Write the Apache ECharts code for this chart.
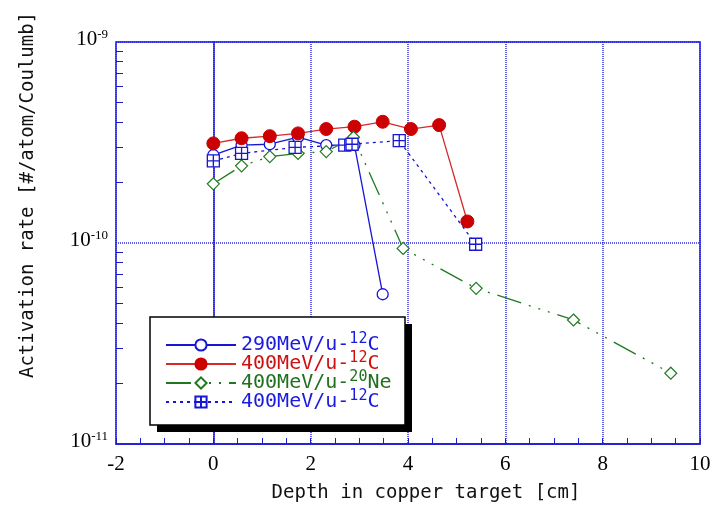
<!DOCTYPE html>
<html>
<head>
<meta charset="utf-8">
<script src="https://cdn.jsdelivr.net/npm/echarts@6/dist/echarts.min.js"></script>
<style>
html, body { margin: 0; padding: 0; background: #fff; }
#chart { width: 714px; height: 512px; }
</style>
</head>
<body>
<div id="chart"></div>
<script>
// depth [cm] / activation rate [#/atom/Coulumb]
const depth290C = [0, 0.58, 1.16, 1.74, 2.32, 2.9, 3.48];
const rate290C = [2.74e-10, 3.07e-10, 3.10e-10, 3.36e-10, 3.07e-10, 3.07e-10, 5.56e-11];

const depth400C = [0, 0.58, 1.16, 1.74, 2.32, 2.9, 3.48, 4.06, 4.64, 5.22];
const rate400C = [3.13e-10, 3.32e-10, 3.40e-10, 3.51e-10, 3.69e-10, 3.79e-10, 4.01e-10, 3.69e-10, 3.86e-10, 1.28e-10];

const depth400Ne = [0, 0.58, 1.16, 1.74, 2.32, 2.88, 3.9, 5.4, 7.4, 9.4];
const rate400Ne = [1.97e-10, 2.42e-10, 2.69e-10, 2.79e-10, 2.85e-10, 3.36e-10, 9.4e-11, 5.95e-11, 4.14e-11, 2.25e-11];

const depth400C2 = [0, 0.58, 1.68, 2.7, 2.85, 3.82, 5.39];
const rate400C2 = [2.56e-10, 2.79e-10, 2.99e-10, 3.07e-10, 3.10e-10, 3.23e-10, 9.86e-11];

// legend: [text, superscript, element]
const seriesNames = ["290C", "400C", "400Ne", "400C2"];
const legendParts = {
	"290C": ["290MeV/u-", "12", "C"],
	"400C": ["400MeV/u-", "12", "C"],
	"400Ne": ["400MeV/u-", "20", "Ne"],
	"400C2": ["400MeV/u-", "12", "C"],
};
const legendKey = { "290C": "b", "400C": "r", "400Ne": "g", "400C2": "b" };

const xMin = -2, xMax = 10, xStep = 2;
const yDecades = [1e-11, 1e-10, 1e-9];

const BLUE = "#1616d4";
const RED = "#cc0000";
const GREEN = "#1f7a1f";
const AXIS = "#1c1cc8";
const GRIDLINE = "#2a2ae0";
const MONO = "DejaVu Sans Mono";
const SERIF = "Liberation Serif";

// legend frame (box + hard shadow)
const LEG_X = 150, LEG_Y = 317, LEG_W = 255, LEG_H = 108, LEG_SHADOW = 7;

function pairs(xs, ys) {
	return xs.map((x, i) => [x, ys[i]]);
}

// minor ticks 2..9 inside each decade
let yMinor = [];
for (let i = 0; i < yDecades.length - 1; i++) {
	for (let k = 2; k <= 9; k++) yMinor.push(k * yDecades[i]);
}

function textRich(color) {
	return {
		t: { color: color, fontFamily: MONO, fontSize: 20, lineHeight: 26 },
		s: { color: color, fontFamily: MONO, fontSize: 15, lineHeight: 2, verticalAlign: "top" },
	};
}
const richB = textRich("#1a1ae0");
const richR = textRich("#d01010");
const richG = textRich("#207020");
const legendRich = {
	bt: richB.t, bs: richB.s,
	rt: richR.t, rs: richR.s,
	gt: richG.t, gs: richG.s,
};

let chart = echarts.init(document.getElementById("chart"));

let option = {
	animation: false,
	backgroundColor: "#fff",
	grid: {
		left: 116,
		right: 14,
		top: 42,
		bottom: 68,
		show: true,
		borderColor: AXIS,
		borderWidth: 1.5,
	},
	graphic: [
		{
			type: "rect",
			z: 3,
			shape: { x: LEG_X + LEG_SHADOW, y: LEG_Y + LEG_SHADOW, width: LEG_W, height: LEG_H },
			style: { fill: "#000" },
		},
		{
			type: "rect",
			z: 3,
			shape: { x: LEG_X, y: LEG_Y, width: LEG_W, height: LEG_H },
			style: { fill: "#fff", stroke: "#000", lineWidth: 1.5 },
		},
	],
	xAxis: {
		type: "value",
		min: xMin,
		max: xMax,
		interval: xStep,
		name: "Depth in copper target [cm]",
		nameLocation: "middle",
		nameGap: 40,
		nameTextStyle: { fontFamily: MONO, fontSize: 19, color: "#111", padding: [0, 0, 0, 36] },
		axisLine: { show: true, lineStyle: { color: AXIS, width: 1.5 } },
		axisTick: { show: true, inside: true, length: 6, lineStyle: { color: AXIS } },
		minorTick: { show: true, splitNumber: 4, length: 6, lineStyle: { color: AXIS } },
		axisLabel: { fontFamily: SERIF, fontSize: 21, color: "#000", margin: 10 },
		splitLine: { show: true, lineStyle: { color: GRIDLINE, type: [1, 1], width: 1.5 } },
	},
	yAxis: [
		{
			type: "log",
			logBase: 10,
			min: yDecades[0],
			max: yDecades[yDecades.length - 1],
			name: "Activation rate [#/atom/Coulumb]",
			nameLocation: "middle",
			nameRotate: 90,
			nameGap: 78,
			nameTextStyle: { fontFamily: MONO, fontSize: 19, color: "#111", padding: [0, 0, 0, 96] },
			axisLine: { show: true, lineStyle: { color: AXIS, width: 1.5 } },
			axisTick: { show: false },
			axisLabel: {
				margin: 8,
				formatter: (v) => "{b|10}{s|" + Math.round(Math.log10(v)) + "}",
				rich: {
					b: { fontFamily: SERIF, fontSize: 21, color: "#000", lineHeight: 22 },
					s: { fontFamily: SERIF, fontSize: 13, color: "#000", lineHeight: 12, verticalAlign: "top" },
				},
				padding: [0, 0, 6, 0],
			},
			splitLine: { show: true, lineStyle: { color: GRIDLINE, type: [1, 1], width: 1.5 } },
		},
		{
			type: "log",
			logBase: 10,
			min: yDecades[0],
			max: yDecades[yDecades.length - 1],
			position: "left",
			axisLine: { show: false },
			axisTick: { show: true, inside: true, length: 7, customValues: yMinor, lineStyle: { color: AXIS } },
			axisLabel: { show: false },
			splitLine: { show: false },
		},
	],
	legend: {
		orient: "vertical",
		left: LEG_X,
		top: LEG_Y,
		z: 4,
		padding: [15, 14, 9, 15],
		itemGap: -4,
		itemWidth: 70,
		itemHeight: 14,
		backgroundColor: "transparent",
		borderWidth: 0,
		data: seriesNames,
		formatter: (name) => {
			let p = legendParts[name];
			let k = legendKey[name];
			return "{" + k + "t|" + p[0] + "}{" + k + "s|" + p[1] + "}{" + k + "t|" + p[2] + "}";
		},
		textStyle: { rich: legendRich },
	},
	series: [
		{
			name: seriesNames[0],
			type: "line",
			data: pairs(depth290C, rate290C),
			symbol: "circle",
			symbolSize: 11,
			itemStyle: { color: "#fff", borderColor: BLUE, borderWidth: 1.3 },
			lineStyle: { color: BLUE, width: 1.3 },
		},
		{
			name: seriesNames[1],
			type: "line",
			data: pairs(depth400C, rate400C),
			symbol: "circle",
			symbolSize: 13,
			itemStyle: { color: RED, borderColor: RED, borderWidth: 1 },
			lineStyle: { color: "#d42a2a", width: 1.3 },
		},
		{
			name: seriesNames[2],
			type: "line",
			data: pairs(depth400Ne, rate400Ne),
			symbol: "diamond",
			symbolSize: 12,
			itemStyle: { color: "#fff", borderColor: GREEN, borderWidth: 1.2 },
			lineStyle: { color: GREEN, width: 1.3, type: [25, 8, 2, 8, 2, 8, 2, 8] },
		},
		{
			name: seriesNames[3],
			type: "line",
			data: pairs(depth400C2, rate400C2),
			symbol: "path://M0,0L10,0L10,10L0,10Z M5,0L5,10 M0,5L10,5",
			symbolSize: 12,
			itemStyle: { color: "#fff", borderColor: BLUE, borderWidth: 1.3 },
			lineStyle: { color: BLUE, width: 1.3, type: [3, 4] },
		},
	],
};

chart.setOption(option);
</script>
</body>
</html>
